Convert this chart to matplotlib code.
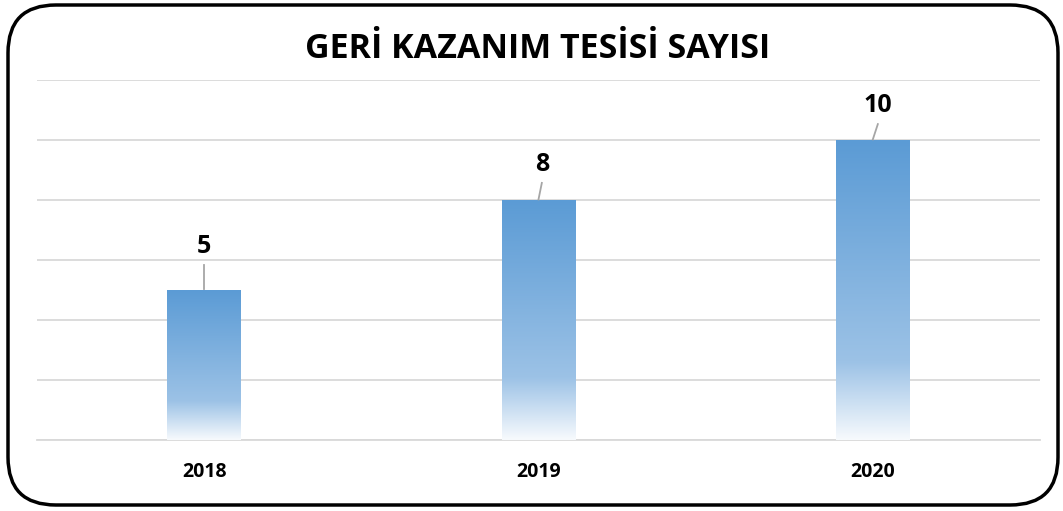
import numpy as np
import matplotlib
matplotlib.use('Agg')
import matplotlib.pyplot as plt
from matplotlib.patches import FancyBboxPatch
from matplotlib.colors import LinearSegmentedColormap

# Data
years = ['2018', '2019', '2020']
counts = [5, 8, 10]
title = 'GERİ KAZANIM TESİSİ SAYISI'

plt.rcParams['font.family'] = ['Open Sans', 'DejaVu Sans']

fig = plt.figure(figsize=(10.63, 5.11), dpi=100)
ax = fig.add_axes([37 / 1063, 1 - 440 / 511, 1003 / 1063, 360 / 511])

x = np.arange(len(years))
bar_width = 0.22
bars = ax.bar(x, counts, width=bar_width, color='none', edgecolor='none', zorder=3)

# Vertical gradient inside each bar: blue on top, fading to white at the bottom
cmap = LinearSegmentedColormap.from_list(
    'bar_grad', [(0.0, '#5B9BD5'), (0.74, '#9CC2E6'), (1.0, '#F7FAFD')])
grad = np.linspace(0, 1, 256).reshape(-1, 1)
for b in bars:
    x0, w, h = b.get_x(), b.get_width(), b.get_height()
    im = ax.imshow(grad, cmap=cmap, aspect='auto', extent=(x0, x0 + w, 0, h),
                   origin='upper', zorder=3)
    im.set_clip_path(b)

# Data labels with short leader lines
label_gap = [1.45, 1.2, 1.15]
leader_top = [0.83, 0.57, 0.53]
leader_dx = [0.0, 0.01, 0.015]
for xi, v, g, lt, dx in zip(x, counts, label_gap, leader_top, leader_dx):
    ax.plot([xi, xi + dx], [v + 0.02, v + lt], color='#A6A6A6', lw=1.3, zorder=4)
    ax.text(xi + dx, v + g, str(v), ha='center', va='center',
            fontsize=18, fontweight='bold', color='black')

ax.set_xlim(-0.5, 2.5)
ax.set_ylim(0, 12)
ax.set_yticks(np.arange(0, 13, 2))
ax.yaxis.grid(True, color='#D9D9D9', lw=1.3, zorder=0)
ax.set_axisbelow(True)
ax.tick_params(axis='y', left=False, labelleft=False)
ax.tick_params(axis='x', length=0, pad=16)
ax.set_xticks(x)
ax.set_xticklabels(years, fontsize=14, fontweight='bold')
for s in ['left', 'right', 'top']:
    ax.spines[s].set_visible(False)
ax.spines['bottom'].set_color('#D9D9D9')
ax.spines['bottom'].set_linewidth(1.3)
ax.patch.set_alpha(0)

fig.text(538 / 1063, 1 - 49 / 511, title, ha='center', va='center',
         fontsize=24.5, fontweight='bold', color='black')

# Rounded outer border
border = FancyBboxPatch((8 / 1063, 6 / 511), 1050 / 1063, 500 / 511,
                        boxstyle='round,pad=0,rounding_size=0.045',
                        transform=fig.transFigure, facecolor='none',
                        edgecolor='black', lw=2.5, mutation_aspect=1063 / 511)
fig.patches.append(border)

fig.savefig('out.png', dpi=100)
